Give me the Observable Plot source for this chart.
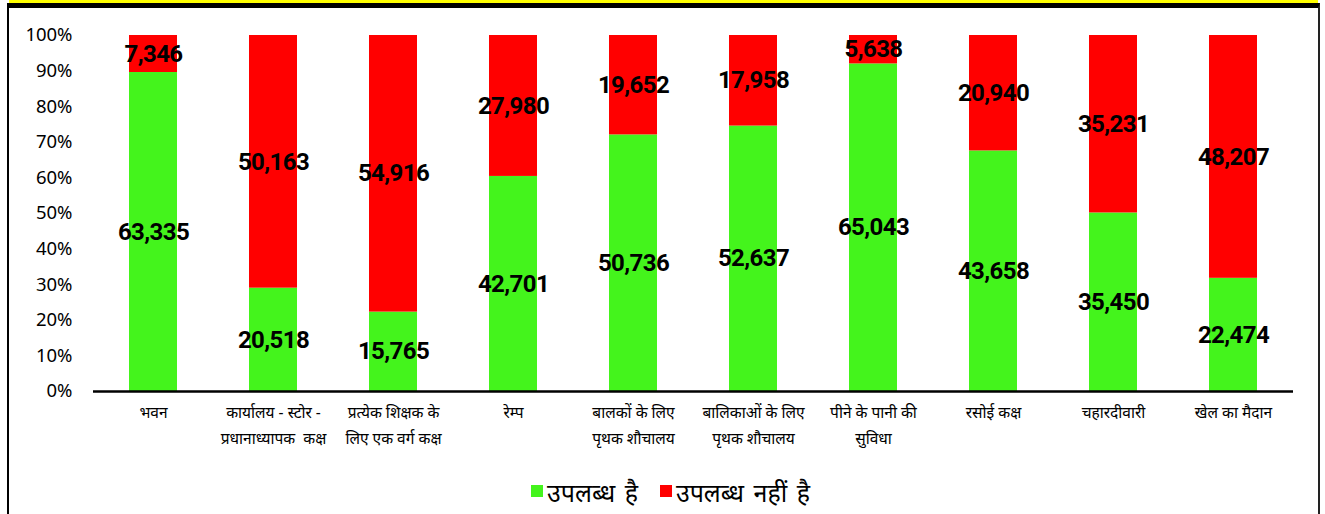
<!DOCTYPE html>
<html>
<head>
<meta charset="utf-8">
<script src="https://cdn.jsdelivr.net/npm/d3@7"></script>
<script src="https://cdn.jsdelivr.net/npm/@observablehq/plot@0.6"></script>
<style>
  html, body { margin: 0; padding: 0; background: #fff; }
  body { width: 1325px; height: 514px; position: relative; overflow: hidden; font-family: "Noto Sans", "DejaVu Sans", sans-serif; }
  #yellow { position: absolute; left: 9px; top: 0; width: 1309px; height: 3px; background: #ffff00; }
  #frame { position: absolute; left: 7px; top: 3px; width: 1313px; height: 540px; border-top: 5px solid #000; border-left: 2px solid #000; border-right: 2px solid #222; box-sizing: border-box; }
  #chart { position: absolute; left: 9px; top: 8px; }
  #legend { position: absolute; left: 0; top: 471px; width: 1325px; text-align: center; font-size: 25px; color: #000; padding-left: 16px; box-sizing: border-box; white-space: nowrap; word-spacing: 3px; }
  .item { display: inline-flex; align-items: center; margin: 0 11px; }
  .sw { display: inline-block; width: 12px; height: 12px; margin-right: 4px; position: relative; top: -1px; }
</style>
</head>
<body>
<div id="yellow"></div>
<div id="frame"></div>
<div id="chart"></div>
<div id="legend"></div>
<script>
const categories = [
  "भवन",
  "कार्यालय - स्टोर -\nप्रधानाध्यापक  कक्ष",
  "प्रत्येक शिक्षक के\nलिए एक वर्ग कक्ष",
  "रेम्प",
  "बालकों के लिए\nपृथक शौचालय",
  "बालिकाओं के लिए\nपृथक शौचालय",
  "पीने के पानी की\nसुविधा",
  "रसोई कक्ष",
  "चहारदीवारी",
  "खेल का मैदान"
];
const seriesNames = ["उपलब्ध है", "उपलब्ध नहीं है"];
const available = [63335, 20518, 15765, 42701, 50736, 52637, 65043, 43658, 35450, 22474];
const notAvailable = [7346, 50163, 54916, 27980, 19652, 17958, 5638, 20940, 35231, 48207];
const colors = ["#44f41c", "#ff0000"];
const yTicks = [0, 0.1, 0.2, 0.3, 0.4, 0.5, 0.6, 0.7, 0.8, 0.9, 1.0];

const rows = [];
categories.forEach((c, i) => {
  rows.push({cat: c, series: seriesNames[0], value: available[i]});
  rows.push({cat: c, series: seriesNames[1], value: notAvailable[i]});
});

const fmt = d3.format(",");

const chart = Plot.plot({
  width: 1309,
  height: 460,
  marginLeft: 84,
  marginRight: 25,
  marginTop: 27,
  marginBottom: 77,
  style: {fontFamily: "'Noto Sans', 'DejaVu Sans', sans-serif", background: "transparent", overflow: "visible"},
  x: {domain: categories, paddingInner: 0.6, paddingOuter: 0.3, label: null},
  y: {domain: [0, 1], label: null},
  color: {domain: seriesNames, range: colors},
  marks: [
    Plot.barY(rows, Plot.stackY({x: "cat", y: "value", z: "series", fill: "series", offset: "normalize", order: null})),
    Plot.text(rows, Plot.stackY({x: "cat", y: "value", z: "series", offset: "normalize", order: null,
      text: d => fmt(d.value), fontSize: 24, fontWeight: "bold", fill: "#000", className: "vlabel",
      fontFamily: "Roboto, 'Liberation Sans', sans-serif"})),
    Plot.axisY({ticks: yTicks, tickFormat: d3.format(".0%"), tickSize: 0, tickPadding: 21, fontSize: 18.5, label: null, fill: "#000"}),
    Plot.axisX({tickSize: 0, tickPadding: 8, fontSize: 15.5, lineHeight: 1.68, label: null, fill: "#000", textAnchor: "middle"}),
    Plot.ruleY([0], {stroke: "#000", strokeWidth: 2.5}),
    Plot.ruleX([0], {x: () => 0, stroke: "#000", strokeWidth: 1.5, frameAnchor: "left"})
  ]
});
document.getElementById("chart").appendChild(chart);
chart.querySelectorAll(".vlabel text").forEach(t => {
  t.style.letterSpacing = "-0.6px";
});

const legend = document.getElementById("legend");
seriesNames.forEach((s, i) => {
  const item = document.createElement("span");
  item.className = "item";
  const sw = document.createElement("span");
  sw.className = "sw";
  sw.style.background = colors[i];
  item.appendChild(sw);
  item.appendChild(document.createTextNode(s));
  legend.appendChild(item);
});
</script>
</body>
</html>
